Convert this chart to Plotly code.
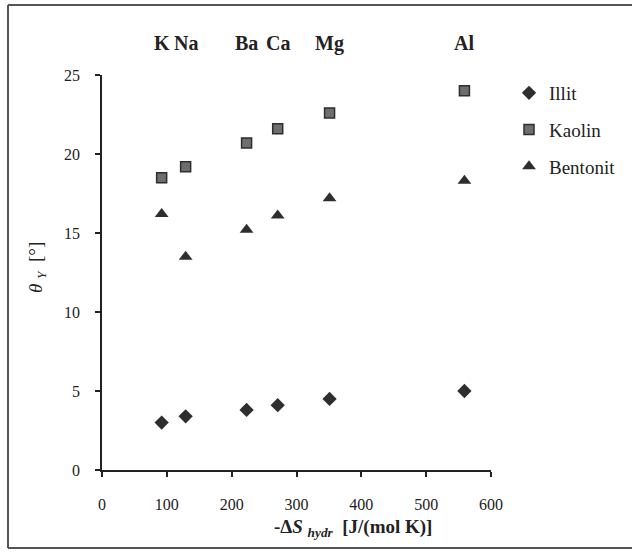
import plotly.graph_objects as go

# Data
entropy_x = [92, 129, 223, 271, 351, 559]          # -ΔS_hydr [J/(mol K)]
ions = ["K", "Na", "Ba", "Ca", "Mg", "Al"]
illit = [3.0, 3.4, 3.8, 4.1, 4.5, 5.0]
kaolin = [18.5, 19.2, 20.7, 21.6, 22.6, 24.0]
bentonit = [16.2, 13.5, 15.2, 16.1, 17.2, 18.3]
x_ticks = [0, 100, 200, 300, 400, 500, 600]
y_ticks = [0, 5, 10, 15, 20, 25]

SERIF = "Liberation Serif, Times New Roman, serif"

L, R, T, B = 102, 141, 75, 83
W, H = 632, 553
pw, ph = W - L - R, H - T - B

def px(xp):
    return (xp - L) / pw

def py(yp):
    return (H - B - yp) / ph

fig = go.Figure()
fig.add_trace(go.Scatter(x=entropy_x, y=illit, mode="markers", name="Illit", legendgroup="a",
                         marker=dict(symbol="diamond", size=11, color="#2e2e2e")))
fig.add_trace(go.Scatter(x=entropy_x, y=kaolin, mode="markers", name="Kaolin", legendgroup="b",
                         marker=dict(symbol="square", size=10, color="#6e6e6e",
                                     line=dict(color="#2e2e2e", width=1.5))))
fig.add_trace(go.Scatter(x=entropy_x, y=bentonit, mode="markers", name="Bentonit", legendgroup="c",
                         marker=dict(symbol="triangle-up", size=12, color="#2e2e2e")))

# ion labels on top
for xi, lab in zip(entropy_x, ions):
    fig.add_annotation(x=xi, y=py(43), xref="x", yref="paper", xanchor="center", yanchor="middle",
                       text=f"<b>{lab}</b>", showarrow=False,
                       font=dict(family=SERIF, size=20, color="#222"))

# axis titles
fig.add_annotation(x=px(353), y=py(528), xref="paper", yref="paper",
                   xanchor="center", yanchor="middle",
                   text="<b>-Δ<i>S</i> <sub><i>hydr</i></sub>  [J/(mol K)]</b>",
                   showarrow=False, font=dict(family=SERIF, size=19, color="#222"))
fig.add_annotation(x=px(37), y=py(268), xref="paper", yref="paper", textangle=-90,
                   xanchor="center", yanchor="middle",
                   text="<i>θ</i> <sub><i>Y</i></sub>  [°]",
                   showarrow=False, font=dict(family=SERIF, size=19, color="#222"))

# outer frame (left, top, bottom)
frame = dict(color="#555", width=2)
fig.add_shape(type="line", xref="paper", yref="paper", x0=px(8), x1=px(8), y0=py(5), y1=py(548), line=frame)
fig.add_shape(type="line", xref="paper", yref="paper", x0=px(8), x1=px(640), y0=py(5), y1=py(5), line=frame)
fig.add_shape(type="line", xref="paper", yref="paper", x0=px(8), x1=px(640), y0=py(548), y1=py(548), line=frame)

fig.update_layout(
    width=W, height=H,
    margin=dict(l=L, r=R, t=T, b=B, autoexpand=False),
    paper_bgcolor="white", plot_bgcolor="white",
    font=dict(family=SERIF, size=16, color="#222"),
    showlegend=True,
    legend=dict(xref="container", yref="container", x=509 / W, y=1 - 74 / H,
                xanchor="left", yanchor="top",
                font=dict(family=SERIF, size=19, color="#222"),
                tracegroupgap=9, bgcolor="rgba(0,0,0,0)", itemwidth=30),
    xaxis=dict(range=[0, 600], tickvals=x_ticks, showgrid=False, zeroline=False,
               showline=True, linecolor="#222", linewidth=1.5,
               ticks="outside", ticklen=5, tickcolor="#222", tickwidth=1.5,
               ticklabelstandoff=14, tickfont=dict(size=16)),
    yaxis=dict(range=[0, 25], tickvals=y_ticks, showgrid=False, zeroline=False,
               showline=True, linecolor="#222", linewidth=1.5,
               ticks="outside", ticklen=5, tickcolor="#222", tickwidth=1.5,
               ticklabelstandoff=12, tickfont=dict(size=16)),
)

fig.write_html("out.html")
